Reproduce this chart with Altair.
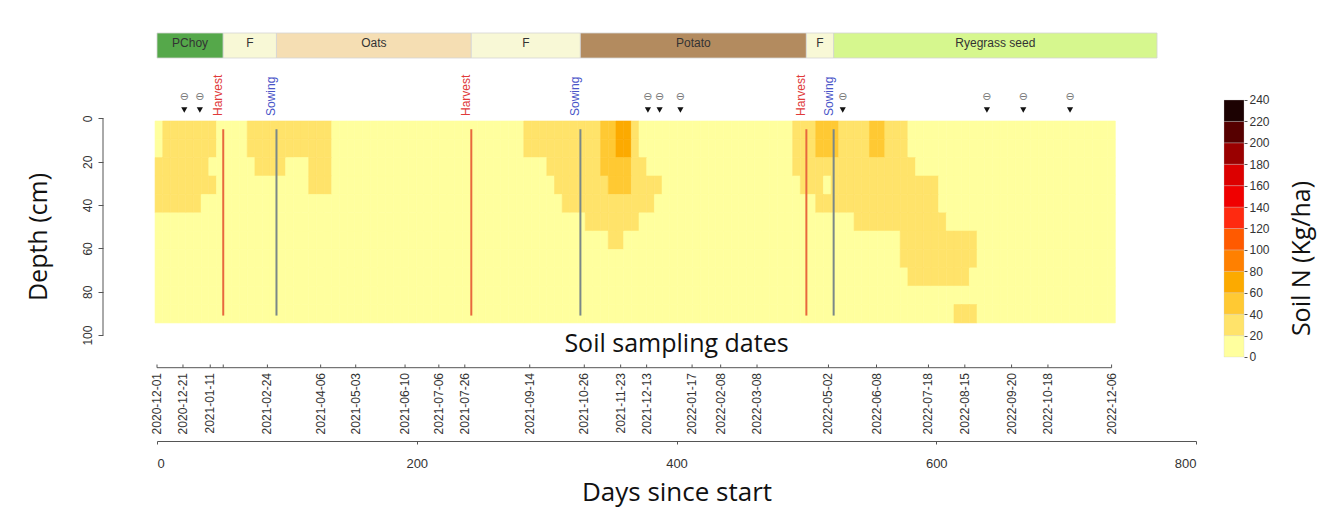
import altair as alt
import numpy as np
import pandas as pd

# ---------------- data ----------------
START = pd.Timestamp("2020-12-01")

crop_names = ["PChoy", "F", "Oats", "F", "Potato", "F", "Ryegrass seed"]
crop_start = [0, 51, 92, 242, 326, 500, 521]
crop_end = [51, 92, 242, 326, 500, 521, 770]
crop_colors = ["#55a84a", "#f8f8d6", "#f5deb3", "#f8f8d6", "#b38b5f", "#f8f8d6", "#d6f78e"]

event_names = ["Harvest", "Sowing", "Harvest", "Sowing", "Harvest", "Sowing"]
event_days = [51, 92, 242, 326, 500, 521]
event_colors = ["#e03a3a", "#4a55c8", "#e03a3a", "#4a55c8", "#e03a3a", "#4a55c8"]
event_line_colors = ["#e8683e", "#7a8888", "#e8683e", "#7a8888", "#e8683e", "#7a8888"]

marker_days = [21, 33, 378, 387, 403, 528, 639, 667, 703]

sampling_dates = ["2020-12-01", "2020-12-21", "2021-01-11", "2021-02-24", "2021-04-06",
                  "2021-05-03", "2021-06-10", "2021-07-06", "2021-07-26", "2021-09-14",
                  "2021-10-26", "2021-11-23", "2021-12-13", "2022-01-17", "2022-02-08",
                  "2022-03-08", "2022-05-02", "2022-06-08", "2022-07-18", "2022-08-15",
                  "2022-09-20", "2022-10-18", "2022-12-06"]
extra_tick_days = [51]

# soil N grid: 11 depth layers x 125 time cells
depth_edges = [1.2, 9.7, 18.1, 26.6, 35.1, 43.6, 52.0, 60.5, 69.0, 77.4, 85.9, 94.4]
n_cols = 125
col_origin = -1.5
col_step = 5.915
base_N = 10
# patches: column start/end (exclusive), row start/end (exclusive), soil N (kg/ha)
p_c0 = [1, 0, 0, 0, 12, 13, 20, 48, 51, 52, 53, 56, 59, 83, 83, 84, 88, 86, 91, 97, 98, 104, 58, 58, 59, 86, 93, 60]
p_c1 = [8, 7, 8, 6, 23, 17, 23, 63, 64, 66, 65, 63, 61, 98, 99, 87, 102, 102, 103, 107, 106, 107, 60, 62, 62, 89, 95, 62]
p_r0 = [0, 2, 3, 4, 0, 2, 2, 0, 2, 3, 4, 5, 6, 0, 2, 3, 3, 4, 5, 6, 8, 10, 0, 2, 3, 0, 0, 0]
p_r1 = [2, 3, 4, 5, 2, 3, 4, 2, 3, 4, 5, 6, 7, 2, 3, 4, 4, 5, 6, 8, 9, 11, 2, 3, 4, 2, 2, 2]
p_N = [30, 30, 30, 30, 30, 30, 30, 30, 30, 30, 30, 30, 30, 30, 30, 30, 30, 30, 30, 30, 30, 30,
       50, 50, 50, 50, 50, 70]

# colour classes
n_breaks = [20, 40, 60, 80, 100, 120, 140, 160, 180, 200, 220]
n_colors = ["#ffff9e", "#ffe36a", "#ffc933", "#fcaa00", "#ff8000", "#ff5a00",
            "#ff2a10", "#f00000", "#dc0000", "#9a0000", "#560000", "#1c0202"]
legend_lo = [0, 20, 40, 60, 80, 100, 120, 140, 160, 180, 200, 220]

# ---------------- tables ----------------
grid = np.full((len(depth_edges) - 1, n_cols), base_N, dtype=float)
for c0, c1, r0, r1, v in zip(p_c0, p_c1, p_r0, p_r1, p_N):
    grid[r0:r1, c0:c1] = v
rows = []
for r in range(grid.shape[0]):
    for c in range(n_cols):
        rows.append({"x0": col_origin + c * col_step, "x1": col_origin + (c + 1) * col_step,
                     "d0": depth_edges[r], "d1": depth_edges[r + 1], "N": grid[r, c]})
cells = pd.DataFrame(rows)

crops = pd.DataFrame({"name": crop_names, "start": crop_start, "end": crop_end,
                      "color": crop_colors})
crops["mid"] = (crops["start"] + crops["end"]) / 2
events = pd.DataFrame({"name": event_names, "day": event_days, "tcol": event_colors,
                       "lcol": event_line_colors})
markers = pd.DataFrame({"day": marker_days})
samp = pd.DataFrame({"label": sampling_dates})
samp["day"] = [(pd.Timestamp(d) - START).days for d in sampling_dates]
ticks = pd.DataFrame({"day": list(samp["day"]) + extra_tick_days})
cbar = pd.DataFrame({"lo": legend_lo})
cbar["hi"] = cbar["lo"] + 20
cbar["mid"] = cbar["lo"] + 10

# ---------------- scales / axes ----------------
X_DOMAIN = [0, 800]
W, H = 1039, 433
xscale = alt.Scale(domain=X_DOMAIN, nice=False, zero=False)
yscale = alt.Scale(domain=[-50.95, 148.89], nice=False, zero=False, reverse=True)
cscale = alt.Scale(type="threshold", domain=n_breaks, range=n_colors)

RFONT = "Liberation Sans"
TFONT = "Open Sans"
TSIZE = 25

xaxis = alt.Axis(values=[0, 200, 400, 600, 800], grid=False, tickSize=3,
                 labelFont=RFONT, labelFontSize=13, labelColor="#333",
                 labelBaseline="middle", labelPadding=19,
                 domainColor="#555", tickColor="#555",
                 title="Days since start", titleFont=TFONT, titleFontSize=26,
                 titleFontWeight="normal", titleColor="#111",
                 titleBaseline="alphabetic", titleY=59)
yaxis = alt.Axis(values=[0, 20, 40, 60, 80, 100], offset=54, domain=False, grid=False,
                 tickSize=5, tickColor="#555", labelAngle=270, labelAlign="center",
                 labelBaseline="bottom", labelFont=RFONT, labelFontSize=12,
                 labelColor="#333", labelPadding=4,
                 title="Depth (cm)", titleFont=TFONT, titleFontSize=TSIZE,
                 titleFontWeight="normal", titleColor="#111", titleAngle=270,
                 titleAlign="center", titleBaseline="middle", titleX=-65, titleY=228.5)

# ---------------- layers ----------------
heat = alt.Chart(cells).mark_rect(strokeWidth=0.6).encode(
    x=alt.X("x0:Q", scale=xscale, axis=xaxis),
    x2="x1:Q",
    y=alt.Y("d0:Q", scale=yscale, axis=yaxis),
    y2="d1:Q",
    fill=alt.Fill("N:Q", scale=cscale, legend=None),
    stroke=alt.Stroke("N:Q", scale=cscale, legend=None),
)

vlines = alt.Chart(events).mark_rule(strokeWidth=2).encode(
    x="day:Q",
    y=alt.datum(5),
    y2=alt.datum(91),
    color=alt.Color("lcol:N", scale=None),
)

depth_line = alt.Chart(pd.DataFrame({"a": [0]})).mark_rule(color="#555", strokeWidth=1).encode(
    x=alt.value(-54), y=alt.datum(0), y2=alt.datum(100))

crop_bar = alt.Chart(crops).mark_rect(stroke="#d4d4d4", strokeWidth=0.8).encode(
    x="start:Q", x2="end:Q", y=alt.value(25), y2=alt.value(50),
    fill=alt.Fill("color:N", scale=None))
crop_txt = alt.Chart(crops).mark_text(font=RFONT, fontSize=12, color="#333",
                                      baseline="middle").encode(
    x="mid:Q", y=alt.value(34.5), text="name:N")

ev_txt = alt.Chart(events).mark_text(font=RFONT, fontSize=12, angle=270, align="left",
                                     baseline="middle").encode(
    x="day:Q", xOffset=alt.value(-5), y=alt.value(108), text="name:N",
    color=alt.Color("tcol:N", scale=None))

mk_top = alt.Chart(markers).mark_text(text="⊖", font="DejaVu Sans", fontSize=11,
                                      color="#777", baseline="middle").encode(
    x="day:Q", y=alt.value(89))
mk_arrow = alt.Chart(markers).mark_point(shape="triangle-down", filled=True, size=38,
                                         color="#111", opacity=1).encode(
    x="day:Q", y=alt.value(102))

ssd = alt.Chart(pd.DataFrame({"t": ["Soil sampling dates"]})).mark_text(
    font=TFONT, fontSize=TSIZE, color="#111", baseline="middle").encode(
    x=alt.datum(400), y=alt.value(336), text="t:N")

date_line = alt.Chart(pd.DataFrame({"a": [0]})).mark_rule(color="#555", strokeWidth=1).encode(
    x=alt.datum(0), x2=alt.datum(int(samp["day"].max())), y=alt.value(359.7))
date_ticks = alt.Chart(ticks).mark_rule(color="#555", strokeWidth=1).encode(
    x="day:Q", y=alt.value(356.5), y2=alt.value(359.7))
date_lbl = alt.Chart(samp).mark_text(font=RFONT, fontSize=12, color="#333", angle=270,
                                     align="right", baseline="middle").encode(
    x="day:Q", y=alt.value(365), text="label:N")

main = alt.layer(heat, vlines, depth_line, crop_bar, crop_txt, ev_txt, mk_top, mk_arrow,
                 ssd, date_line, date_ticks, date_lbl)

cb_axis = alt.Axis(orient="right", offset=48, values=legend_lo + [240], domain=False,
                   grid=False, tickSize=3, tickColor="#555", labelFont=RFONT,
                   labelFontSize=12, labelColor="#333", labelPadding=2,
                   title="Soil N (Kg/ha)", titleFont=TFONT, titleFontSize=TSIZE,
                   titleFontWeight="normal", titleColor="#111", titleAngle=270,
                   titleAlign="center", titleBaseline="middle", titleX=57, titleY=250)
cb = alt.Chart(cbar).mark_rect(stroke="#cccccc", strokeWidth=0.3).encode(
    x=alt.value(1067), x2=alt.value(1087),
    y=alt.Y("lo:Q", scale=alt.Scale(domain=[-78.45, 325.91], nice=False, zero=False),
            axis=cb_axis),
    y2="hi:Q",
    fill=alt.Fill("mid:Q", scale=cscale, legend=None),
)

chart = alt.layer(main, cb).resolve_scale(y="independent").properties(
    width=W, height=H,
    autosize=alt.AutoSizeParams(type="none"),
    padding={"left": 149, "top": 0, "right": 133, "bottom": 66},
    background="white",
).configure_view(stroke=None)

chart.save("out.html", embed_options={"renderer": "svg", "actions": False})
